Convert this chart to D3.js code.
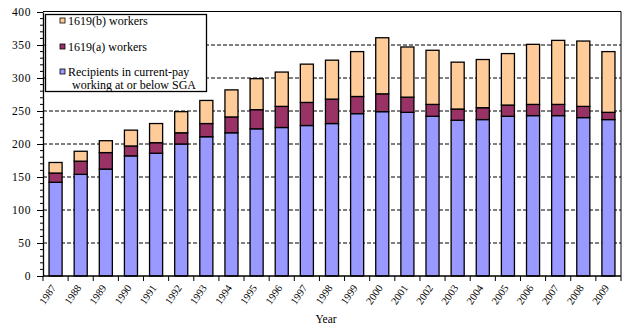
<!DOCTYPE html>
<html><head><meta charset="utf-8">
<script src="https://cdn.jsdelivr.net/npm/d3@7/dist/d3.min.js"></script>
<style>
html,body{margin:0;padding:0;background:#fff;}
text{font-family:"Liberation Serif","Times New Roman","DejaVu Serif",serif !important;}
</style></head>
<body>
<svg id="chart" width="624" height="336"></svg>
<script>
const years = ["1987","1988","1989","1990","1991","1992","1993","1994","1995","1996","1997","1998","1999","2000","2001","2002","2003","2004","2005","2006","2007","2008","2009"];
const recipients = [142,154,162,182,186,200,211,217,223,225,228,231,246,249,248,242,236,237,242,243,243,240,237];
const workers1619a = [14,20,25,15,16,17,20,24,29,32,35,37,26,27,23,18,17,18,17,17,17,17,11];
const workers1619b = [16,15,18,24,29,32,35,41,47,52,58,59,68,85,76,82,71,73,78,91,97,99,92];
const yTicks = [0,50,100,150,200,250,300,350,400];
const seriesNames = ["Recipients in current-pay working at or below SGA","1619(a) workers","1619(b) workers"];
const colors = ["#9999FF","#993366","#FFCC99"];

const svg = d3.select("#chart");
const L = 43, R = 621, T = 12, B = 276;
const FF = "Liberation Serif";

const y = d3.scaleLinear().domain([0,400]).range([B,T]);
const slot = d3.scaleBand().domain(years).range([L,R]).padding(0);
const x = d3.scaleBand().domain(years).range([L,R]).paddingInner(0.48).paddingOuter(0.24);

const rows = years.map((yr,i)=>({year:yr, s0:recipients[i], s1:workers1619a[i], s2:workers1619b[i]}));
const stack = d3.stack().keys(["s0","s1","s2"])(rows);

// gridlines
svg.append("g").selectAll("line").data(yTicks.filter(v=>v>0 && v<400)).join("line")
  .attr("x1",L).attr("x2",R).attr("y1",d=>y(d)).attr("y2",d=>y(d))
  .attr("stroke","#000").attr("stroke-width",1).attr("stroke-dasharray","4,2");

// bars
stack.forEach((layer,k)=>{
  svg.append("g").selectAll("rect").data(layer).join("rect")
    .attr("x",d=>x(d.data.year)).attr("width",x.bandwidth())
    .attr("y",d=>y(d[1])).attr("height",d=>y(d[0])-y(d[1]))
    .attr("fill",colors[k]).attr("stroke","#000").attr("stroke-width",1.3);
});

// frame top & right
svg.append("line").attr("x1",L).attr("x2",R).attr("y1",y(400)-0.5).attr("y2",y(400)-0.5).attr("stroke","#000");
svg.append("line").attr("x1",R).attr("x2",R).attr("y1",y(400)-0.5).attr("y2",B).attr("stroke","#000");

// y axis
const yAxis = d3.axisLeft(y).tickValues(yTicks).tickSize(6).tickPadding(6).tickSizeOuter(0);
const gy = svg.append("g").attr("transform",`translate(${L},0)`).call(yAxis);
gy.attr("font-family",FF);
gy.select(".domain").attr("stroke","#000").attr("stroke-width",1.3);
gy.selectAll(".tick line").attr("stroke","#000");
gy.selectAll(".tick text").attr("font-size","11.5px").attr("letter-spacing","0.6px").attr("fill","#000");
const minor = d3.range(0,401,10).filter(v=>v%50!==0);
svg.append("g").selectAll("line").data(minor).join("line")
  .attr("x1",L-3).attr("x2",L).attr("y1",d=>y(d)).attr("y2",d=>y(d)).attr("stroke","#000");

// x axis
svg.append("line").attr("x1",L).attr("x2",R).attr("y1",B).attr("y2",B).attr("stroke","#000").attr("stroke-width",1.3);
const bounds = years.map(d=>slot(d)).concat([R]);
svg.append("g").selectAll("line").data(bounds).join("line")
  .attr("x1",d=>d).attr("x2",d=>d).attr("y1",B).attr("y2",B+5).attr("stroke","#000");
svg.append("g").attr("font-family",FF).selectAll("text").data(years).join("text")
  .attr("transform",d=>`translate(${slot(d)+slot.bandwidth()/2+1},${B+12}) rotate(-55)`)
  .attr("text-anchor","end").attr("font-size","10.5px").attr("fill","#000").text(d=>d);

svg.append("text").attr("font-family",FF).attr("x",326).attr("y",323).attr("text-anchor","middle").attr("font-size","11.5px").text("Year");

// legend
const lg = svg.append("g").attr("font-family",FF);
lg.append("rect").attr("x",45.5).attr("y",14.5).attr("width",161).attr("height",77)
  .attr("fill","#fff").attr("stroke","#000").attr("stroke-width",1.3);
const legItems = [
  {c:colors[2], lines:["1619(b) workers"], y:25},
  {c:colors[1], lines:["1619(a) workers"], y:51},
  {c:colors[0], lines:["Recipients in current-pay","working at or below SGA"], y:76}
];
legItems.forEach(it=>{
  lg.append("rect").attr("x",60).attr("y",it.y-7).attr("width",5).attr("height",5)
    .attr("fill",it.c).attr("stroke","#000").attr("stroke-width",0.8);
  it.lines.forEach((t,j)=>{
    lg.append("text").attr("x",j===0?68:72).attr("y",it.y+j*12.5).attr("font-size","12px").text(t);
  });
});
</script>
</body></html>
